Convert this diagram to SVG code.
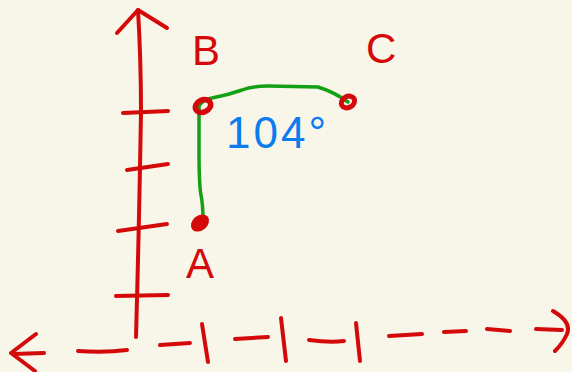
<svg xmlns="http://www.w3.org/2000/svg" width="572" height="372" viewBox="0 0 572 372">
<style>
.r{fill:none;stroke:#d40a0a;stroke-width:4;stroke-linecap:round;stroke-linejoin:round}
.g{fill:none;stroke:#14a014;stroke-width:3.5;stroke-linecap:round;stroke-linejoin:round}
.lbl{font-family:"Liberation Sans",Arial,sans-serif;fill:#d40a0a;font-size:42px}
</style>
<rect width="572" height="372" fill="#f8f5e9"/>
<g id="axes">
<path class="r" d="M138 10 Q141 60 141 112 Q139 230 136 337"/>
<path class="r" d="M117 33 L138 10 L167 28"/>
<path class="r" d="M123 113 L168 111"/>
<path class="r" d="M127 170 L168 164"/>
<path class="r" d="M118 231 L167 224"/>
<path class="r" d="M116 296 L168 295"/>
<path class="r" d="M36 334 L11 353 L35 371"/>
<path class="r" d="M13 354 L44 353"/>
<path class="r" d="M78 351 Q105 353 127 350"/>
<path class="r" d="M160 345 L190 343"/>
<path class="r" d="M202 324 L208 362"/>
<path class="r" d="M235 339 L268 337"/>
<path class="r" d="M281 318 L286 361"/>
<path class="r" d="M309 340 Q330 343 344 341"/>
<path class="r" d="M356 323 L360 361"/>
<path class="r" d="M389 336 L422 334"/>
<path class="r" d="M444 332 L466 331"/>
<path class="r" d="M487 329 L510 331"/>
<path class="r" d="M536 329 L562 330"/>
<path class="r" d="M553 311 Q572 322 567 334 Q563 343 555 351"/>
</g>
<g id="connectors">
<path class="g" d="M203 220 Q203 205 201 195 Q199 185 199 150 L199 106 Q202 100 212 98 Q228 95 242 90 Q252 86 268 86 L318 87 Q334 92 348 102"/>
</g>
<g id="B">
<ellipse cx="203" cy="106" rx="8" ry="6" transform="rotate(-25 203 106)" fill="none" stroke="#d40a0a" stroke-width="5.5"/>
<text class="lbl" x="192" y="65">B</text>
</g>
<g id="C">
<ellipse cx="348" cy="102" rx="7" ry="5.5" transform="rotate(-30 348 102)" fill="none" stroke="#d40a0a" stroke-width="5"/>
<text class="lbl" x="366" y="63">C</text>
</g>
<g id="A">
<ellipse cx="200" cy="223" rx="10" ry="7.5" transform="rotate(-40 200 223)" fill="#d40a0a"/>
<text class="lbl" x="186" y="278">A</text>
</g>
<g id="angle">
<text x="226" y="148" font-family="'Liberation Sans',Arial,sans-serif" font-size="44" letter-spacing="3" fill="#0a7cf0">104°</text>
</g>
</svg>
